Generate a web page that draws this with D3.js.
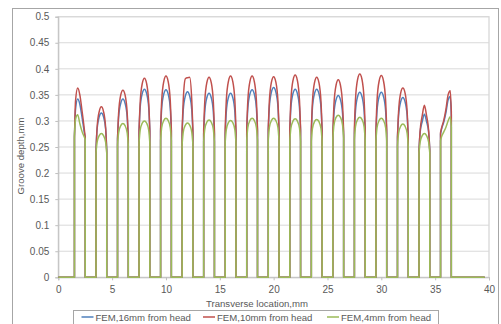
<!DOCTYPE html>
<html><head><meta charset="utf-8">
<script src="https://cdn.jsdelivr.net/npm/d3@7"></script>
<style>
html,body{margin:0;padding:0;background:#fff;}
svg{display:block;}
text{font-family:"Liberation Sans",Arial,sans-serif;fill:#595959;}
</style></head>
<body>
<svg id="chart" width="501" height="324"></svg>
<script>
// ---------- DATA ----------
const seriesNames = ["FEM,16mm from head", "FEM,10mm from head", "FEM,4mm from head"];
const grooveLeft  = [1.5,3.5,5.5,7.5,9.5,11.5,13.5,15.5,17.5,19.5,21.5,23.5,25.5,27.5,29.5,31.5,33.5,35.5];
const grooveRight = [2.5,4.5,6.5,8.5,10.5,12.5,14.5,16.5,18.5,20.5,22.5,24.5,26.5,28.5,30.5,32.5,34.5,36.5];
// relative position inside each groove of the sampled depths
const sampleOffsets = [0, 0.1, 0.3, 0.5, 0.7, 0.9, 1];
const baselineStart = 0;
const baselineEnd = 39.6;
// groove depth samples (mm) per groove, 16mm from head
const depth16 = [
  [.270,.322,.342,.332,.308,.280,.268],
  [.245,.284,.308,.315,.308,.284,.245],
  [.266,.307,.334,.342,.334,.307,.266],
  [.281,.325,.353,.361,.353,.325,.281],
  [.280,.324,.352,.360,.352,.324,.280],
  [.277,.320,.348,.356,.348,.320,.277],
  [.275,.317,.345,.353,.345,.317,.275],
  [.275,.317,.345,.353,.345,.317,.275],
  [.280,.324,.352,.360,.352,.324,.280],
  [.283,.327,.356,.364,.356,.327,.283],
  [.281,.325,.353,.361,.353,.325,.281],
  [.281,.325,.353,.361,.353,.325,.281],
  [.272,.314,.341,.349,.341,.314,.272],
  [.277,.319,.347,.355,.347,.319,.277],
  [.277,.319,.347,.355,.347,.319,.277],
  [.269,.310,.337,.345,.337,.310,.269],
  [.244,.277,.299,.313,.299,.277,.244],
  [.275,.285,.298,.316,.340,.347,.312]
];
// 10mm from head
const depth10 = [
  [.266,.338,.363,.350,.320,.287,.268],
  [.240,.286,.318,.327,.318,.286,.240],
  [.264,.314,.350,.359,.350,.314,.264],
  [.281,.334,.372,.382,.372,.334,.281],
  [.284,.338,.376,.386,.376,.338,.284],
  [.284,.338,.381,.383,.384,.338,.284],
  [.282,.336,.374,.384,.374,.336,.282],
  [.284,.338,.376,.386,.376,.338,.284],
  [.284,.338,.376,.386,.376,.338,.284],
  [.283,.337,.375,.385,.375,.337,.283],
  [.285,.339,.378,.388,.378,.339,.285],
  [.282,.336,.374,.384,.374,.336,.282],
  [.279,.331,.369,.379,.369,.331,.279],
  [.287,.341,.380,.390,.380,.341,.287],
  [.284,.338,.377,.387,.377,.338,.284],
  [.267,.317,.354,.363,.354,.317,.267],
  [.243,.280,.310,.330,.310,.280,.243],
  [.278,.287,.301,.322,.350,.358,.318]
];
// 4mm from head
const depth4 = [
  [.272,.303,.312,.295,.280,.270,.265],
  [.238,.259,.272,.276,.272,.259,.238],
  [.254,.277,.291,.295,.291,.277,.254],
  [.258,.282,.296,.300,.296,.282,.258],
  [.262,.287,.301,.305,.301,.287,.262],
  [.255,.278,.292,.296,.292,.278,.255],
  [.260,.284,.298,.302,.298,.284,.260],
  [.259,.283,.297,.301,.297,.283,.259],
  [.262,.287,.301,.305,.301,.287,.262],
  [.262,.287,.301,.305,.301,.287,.262],
  [.261,.286,.300,.304,.300,.286,.261],
  [.261,.285,.299,.303,.299,.285,.261],
  [.267,.292,.307,.311,.307,.292,.267],
  [.264,.289,.303,.307,.303,.289,.264],
  [.262,.287,.301,.305,.301,.287,.262],
  [.253,.276,.290,.294,.290,.276,.253],
  [.238,.259,.272,.276,.272,.259,.238],
  [.262,.270,.279,.288,.300,.308,.288]
];
const seriesColors = ["#4F81BD", "#C0504D", "#9BBB59"];
const xTicks = [0,5,10,15,20,25,30,35,40];
const yTicks = [0,0.05,0.1,0.15,0.2,0.25,0.3,0.35,0.4,0.45,0.5];
const xTitle = "Transverse location,mm";
const yTitle = "Groove depth,mm";

// ---------- DRAW ----------
const svg = d3.select("#chart");
const L = 58.3, R = 489, T = 16.7, B = 277.3;
const x = d3.scaleLinear().domain([0,40]).range([L,R]);
const y = d3.scaleLinear().domain([0,0.5]).range([B,T]);

// outer chart border
svg.append("rect").attr("x",12.5).attr("y",8.5).attr("width",486).attr("height",340)
  .attr("fill","#fff").attr("stroke","#a6a6a6").attr("stroke-width",1);

// plot area
svg.append("rect").attr("x",L).attr("y",T).attr("width",R-L).attr("height",B-T)
  .attr("fill","#fff").attr("stroke","#d4d4d4").attr("stroke-width",1.2);

// gridlines
svg.append("g").selectAll("line").data(yTicks.slice(1)).join("line")
  .attr("x1",L).attr("x2",R).attr("y1",d=>y(d)).attr("y2",d=>y(d))
  .attr("stroke","#d9d9d9").attr("stroke-width",1);

// y axis
const yAxis = d3.axisLeft(y).tickValues(yTicks).tickSize(3).tickPadding(6)
  .tickFormat(d=>d3.format("")(+d.toFixed(2)));
const gy = svg.append("g").attr("transform",`translate(${L},0)`).call(yAxis);
gy.select(".domain").attr("stroke","#bfbfbf");
gy.selectAll(".tick line").attr("stroke","#bfbfbf");
gy.selectAll(".tick text").attr("font-size","10px").attr("fill","#595959")
  .attr("font-family","Liberation Sans, Arial, sans-serif");

// x axis
const xAxis = d3.axisBottom(x).tickValues(xTicks).tickSize(3).tickPadding(6);
const gx = svg.append("g").attr("transform",`translate(0,${B})`).call(xAxis);
gx.select(".domain").attr("stroke","#bfbfbf");
gx.selectAll(".tick line").attr("stroke","#bfbfbf");
gx.selectAll(".tick text").attr("font-size","10px").attr("fill","#595959")
  .attr("font-family","Liberation Sans, Arial, sans-serif");

// series
const archLine = d3.line().curve(d3.curveMonotoneX);
const allSeries = [depth16, depth10, depth4];
allSeries.forEach((s, si) => {
  let d = `M${x(baselineStart)},${y(0)}`;
  s.forEach((vals, gi) => {
    const xl = grooveLeft[gi], xr = grooveRight[gi];
    d += `L${x(xl)},${y(0)}`;
    const pts = sampleOffsets.map((o,i)=>[x(xl + o*(xr-xl)), y(vals[i])]);
    d += "L" + archLine(pts).slice(1);
    d += `L${x(xr)},${y(0)}`;
  });
  d += `L${x(baselineEnd)},${y(0)}`;
  svg.append("path").attr("d",d).attr("fill","none")
    .attr("stroke",seriesColors[si]).attr("stroke-width",1.5)
    .attr("stroke-linejoin","round");
});

// axis titles
svg.append("text").attr("x",257).attr("y",306.5).attr("text-anchor","middle")
  .attr("font-size","9.6px").text(xTitle);
svg.append("text").attr("transform","translate(24,156) rotate(-90)")
  .attr("text-anchor","middle").attr("font-size","9.6px").text(yTitle);

// legend
const lg = svg.append("g");
lg.append("rect").attr("x",73.5).attr("y",310.5).attr("width",365).attr("height",20)
  .attr("fill","#fff").attr("stroke","#a6a6a6");
const legendX = [81.5, 203, 327];
seriesNames.forEach((n,i)=>{
  lg.append("line").attr("x1",legendX[i]).attr("x2",legendX[i]+12)
    .attr("y1",317).attr("y2",317).attr("stroke",seriesColors[i]).attr("stroke-width",1.5);
  lg.append("text").attr("x",legendX[i]+14).attr("y",320.5).attr("font-size","9.6px").text(n);
});
</script>
</body></html>
